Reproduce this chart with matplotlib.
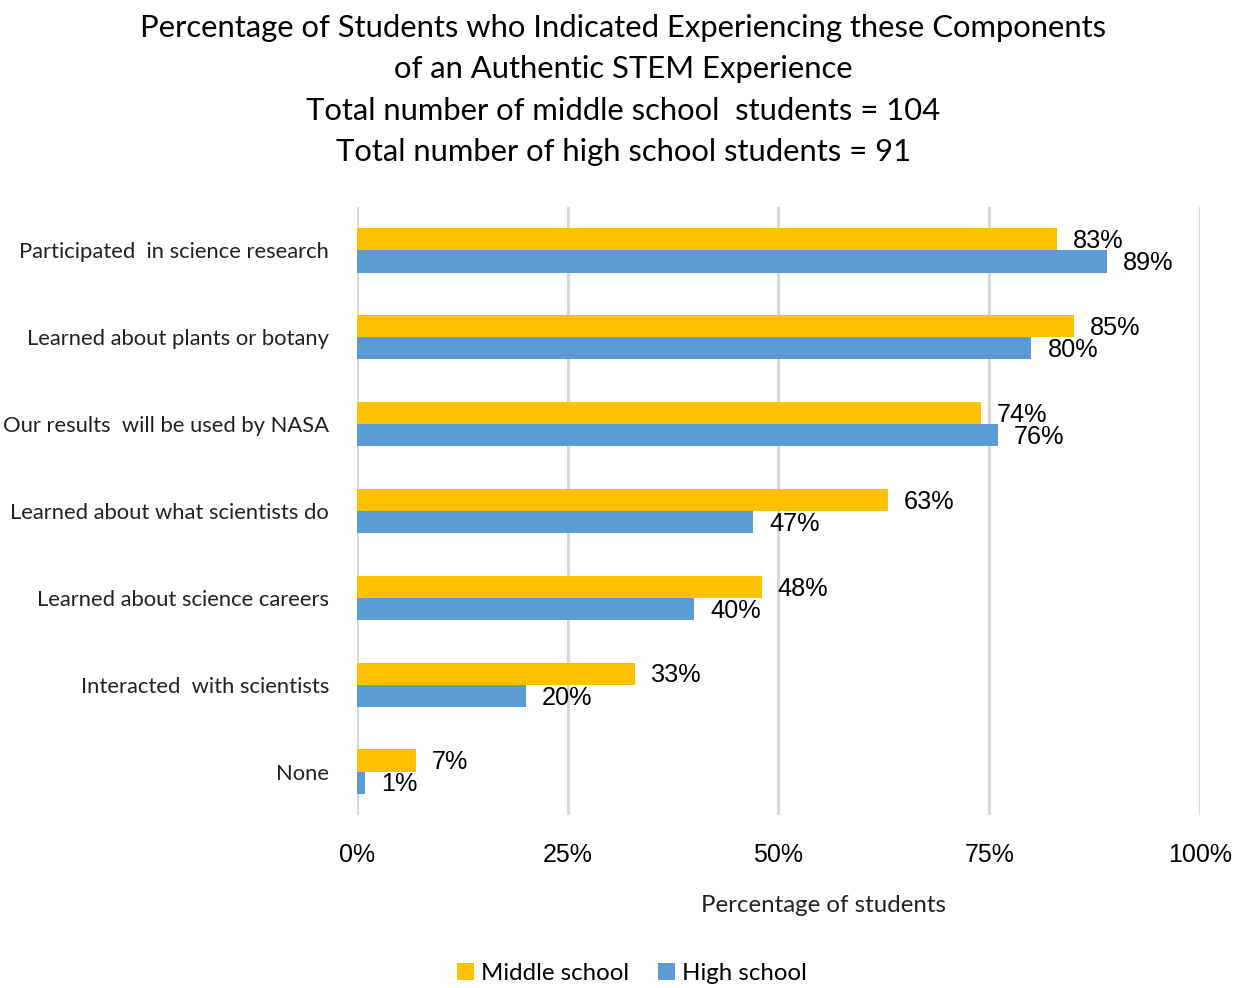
import matplotlib.pyplot as plt
import numpy as np

categories = [
    "Participated  in science research",
    "Learned about plants or botany",
    "Our results  will be used by NASA",
    "Learned about what scientists do",
    "Learned about science careers",
    "Interacted  with scientists",
    "None",
]
middle_school = [83, 85, 74, 63, 48, 33, 7]
high_school = [89, 80, 76, 47, 40, 20, 1]
x_ticks = [0, 25, 50, 75, 100]

title_lines = (
    "Percentage of Students who Indicated Experiencing these Components\n"
    "of an Authentic STEM Experience\n"
    "Total number of middle school  students = 104\n"
    "Total number of high school students = 91"
)

YELLOW = "#FFC000"
BLUE = "#5B9BD5"
GRID = "#D9D9D9"
LABEL_FONT = ["Lato", "DejaVu Sans"]
NUM_FONT = ["Liberation Sans", "DejaVu Sans"]

fig = plt.figure(figsize=(12.42, 9.88), dpi=100)
ax = fig.add_axes([0.2874, 0.1751, 0.6788, 0.6154])

y = np.arange(len(categories))
h = 0.255
ax.barh(y - h / 2, middle_school, height=h, color=YELLOW, label="Middle school", zorder=3)
ax.barh(y + h / 2, high_school, height=h, color=BLUE, label="High school", zorder=3)

for yi, v in zip(y, middle_school):
    ax.text(v + 1.9, yi - h / 2 + 0.02, f"{v}%", va="center", ha="left",
            fontsize=18.2, family=NUM_FONT, color="#000000")
for yi, v in zip(y, high_school):
    ax.text(v + 1.9, yi + h / 2 + 0.02, f"{v}%", va="center", ha="left",
            fontsize=18.2, family=NUM_FONT, color="#000000")

ax.set_xlim(0, 100)
ax.set_ylim(len(categories) - 0.5, -0.5)
ax.set_xticks(x_ticks)
ax.set_xticklabels([f"{t}%" for t in x_ticks], fontsize=18, family=NUM_FONT)
ax.set_yticks(y)
ax.set_yticklabels(categories, fontsize=15.8, family=LABEL_FONT, color="#222222")
ax.tick_params(axis="both", length=0)
ax.tick_params(axis="x", pad=20)
ax.tick_params(axis="y", pad=20)
ax.grid(axis="x", color=GRID, linewidth=2.2, zorder=0)
for s in ax.spines.values():
    s.set_visible(False)

fig.text(0.502, 0.986, title_lines, ha="center", va="top", fontsize=22.3,
         family=LABEL_FONT, linespacing=1.58)
fig.text(0.663, 0.084, "Percentage of students", ha="center", va="center",
         fontsize=17.3, family=LABEL_FONT, color="#222222")

leg = fig.legend(loc="center", bbox_to_anchor=(0.509, 0.015), ncol=2, frameon=False,
                 prop={"family": LABEL_FONT, "size": 17.3}, handlelength=0.7,
                 handleheight=0.7, handletextpad=0.3, columnspacing=1.2)

fig.savefig("out.png", dpi=100)
